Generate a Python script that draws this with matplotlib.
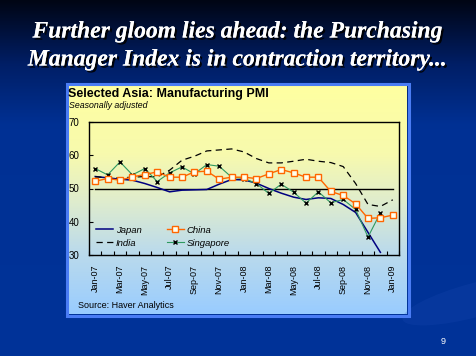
import numpy as np
import matplotlib
matplotlib.use("Agg")
import matplotlib.pyplot as plt
import matplotlib.patheffects as pe
from matplotlib.colors import LinearSegmentedColormap

# monthly PMI, Jan-07 .. Jan-09
months = ['Jan-07', 'Feb-07', 'Mar-07', 'Apr-07', 'May-07', 'Jun-07', 'Jul-07',
          'Aug-07', 'Sep-07', 'Oct-07', 'Nov-07', 'Dec-07', 'Jan-08', 'Feb-08',
          'Mar-08', 'Apr-08', 'May-08', 'Jun-08', 'Jul-08', 'Aug-08', 'Sep-08',
          'Oct-08', 'Nov-08', 'Dec-08', 'Jan-09']
japan = [53.6, 53.2, 52.8, 52.5, 51.5, 50.3, 49.0, 49.5, 49.6, 49.7, 51.3, 52.7,
         52.6, 51.6, 50.0, 48.6, 47.4, 46.7, 47.2, 47.0, 45.2, 42.8, 36.8, 30.8]
china = [52.2, 53.0, 52.5, 53.5, 54.2, 55.0, 53.4, 53.4, 55.0, 55.2, 52.8, 53.4,
         53.4, 53.0, 54.4, 55.7, 54.7, 53.4, 53.4, 49.1, 47.9, 45.4, 41.0, 41.2, 42.0]
india = [53.5, 53.3, 53.2, 53.4, 53.6, 53.5, 55.5, 58.5, 59.7, 61.3, 61.6, 61.9,
         61.0, 59.0, 57.7, 57.7, 58.2, 58.8, 58.2, 57.8, 56.6, 51.5, 45.2, 44.6, 46.6]
singapore = [56.0, 54.1, 58.0, 54.1, 56.0, 52.1, 54.7, 56.5, 54.4, 57.2, 56.7, 53.4,
             53.0, 51.5, 48.5, 51.3, 48.9, 45.6, 49.0, 45.7, 46.7, 43.7, 35.4, 42.7]
threshold = 50

title_lines = ["Further gloom lies ahead: the Purchasing",
               "Manager Index is in contraction territory..."]

W, H = 476, 356
fig = plt.figure(figsize=(W / 100, H / 100), dpi=100)

# --- slide background (pixel coords) ---
bg = fig.add_axes([0, 0, 1, 1])
bg.set_xlim(0, W)
bg.set_ylim(H, 0)
bg.axis('off')

slide_cmap = LinearSegmentedColormap.from_list('slide', [
    (0.0, (0.0, 0.02, 0.08)),
    (0.18, (0.0, 0.12, 0.40)),
    (0.35, (0.0, 0.19, 0.58)),
    (1.0, (0.0, 0.20, 0.60))])
grad = np.linspace(0, 1, 256).reshape(-1, 1)
bg.imshow(grad, cmap=slide_cmap, extent=(0, W, H, 0), aspect='auto')
# faint lighter swoosh on the right
bg.add_patch(matplotlib.patches.Ellipse((475, 300), 150, 34, angle=-15,
                                        color='#1f4fb8', alpha=0.2, lw=0))

# chart panel with yellow-to-blue fill
panel_cmap = LinearSegmentedColormap.from_list('panel', [
    (0.0, (1.0, 1.0, 0.63)),
    (0.3, (0.97, 0.98, 0.68)),
    (0.5, (0.88, 0.93, 0.80)),
    (0.72, (0.74, 0.86, 0.92)),
    (1.0, (0.60, 0.80, 1.0))])
bg.imshow(grad, cmap=panel_cmap, extent=(68, 407, 314, 85), aspect='auto')
bg.add_patch(plt.Rectangle((67, 84), 342, 232, fill=False,
                           edgecolor='#4a7cf4', lw=2.2))

shadow = [pe.withSimplePatchShadow(offset=(1.5, -1.5), shadow_rgbFace='black', alpha=0.9),
          pe.Normal()]
for yy, line in zip([32, 60], title_lines):
    bg.text(W / 2, yy, line, color='white', ha='center', va='center',
            family='Liberation Serif', weight='bold', style='italic', fontsize=17,
            path_effects=shadow)

bg.text(68, 97, "Selected Asia: Manufacturing PMI", family='Liberation Sans',
        weight='bold', fontsize=9, color='black', va='baseline')
bg.text(69, 107.5, "Seasonally adjusted", family='Liberation Sans', style='italic',
        fontsize=6.3, color='black', va='baseline')
bg.text(78, 306, "Source: Haver Analytics", family='Liberation Sans',
        fontsize=6.5, color='black', va='center')
bg.text(443, 342, "9", family='Liberation Sans', fontsize=6.5, color='white',
        ha='center', va='center')

# --- the chart ---
ax = fig.add_axes([89 / W, 1 - 255 / H, 310 / W, 133 / H])
ax.patch.set_alpha(0)

x = np.arange(len(months))
ax.plot(x, [threshold] * len(months), color='black', lw=1.0, zorder=2)
ax.plot(x[:len(japan)], japan, color='#000080', lw=1.1, label='Japan', zorder=3)
ax.plot(x[:len(india)], india, color='black', lw=0.9, ls=(0, (5, 3.5)),
        label='India', zorder=3)
ax.plot(x[:len(china)], china, color='#ff6600', lw=1.0, marker='s', ms=4.2,
        mfc='#ffffee', mec='#ff6600', mew=1.0, label='China', zorder=4)
ax.plot(x[:len(singapore)], singapore, color='#2e9960', lw=0.8, marker='x',
        ms=2.5, mec='black', mew=1.0, label='Singapore', zorder=3)

ax.set_xlim(-0.5, len(months) - 0.5)
ax.set_ylim(30, 70)
ax.set_yticks([30, 40, 50, 60, 70])
ax.set_xticks(x[::2])
ax.set_xticklabels(months[::2], rotation=90, family='Liberation Sans', fontsize=6.5)
ax.set_xticks(np.arange(-0.5, len(months), 1), minor=True)
ax.tick_params(axis='x', which='major', length=0, pad=7)
ax.tick_params(axis='x', which='minor', direction='in', length=3, width=0.8)
ax.tick_params(axis='y', direction='in', length=3, width=0.8, pad=7,
               labelsize=7)
for lab in ax.get_yticklabels():
    lab.set_family('Liberation Sans')
for sp in ax.spines.values():
    sp.set_linewidth(1.0)

leg = ax.legend(ncol=2, loc='upper left', bbox_to_anchor=(0.01, 0.25),
                frameon=False, prop={'family': 'Liberation Sans', 'style': 'italic',
                                     'size': 6.8},
                handlelength=1.8, handletextpad=0.3, columnspacing=2.7,
                labelspacing=0.45, borderaxespad=0)

fig.savefig('out.png', dpi=100)
